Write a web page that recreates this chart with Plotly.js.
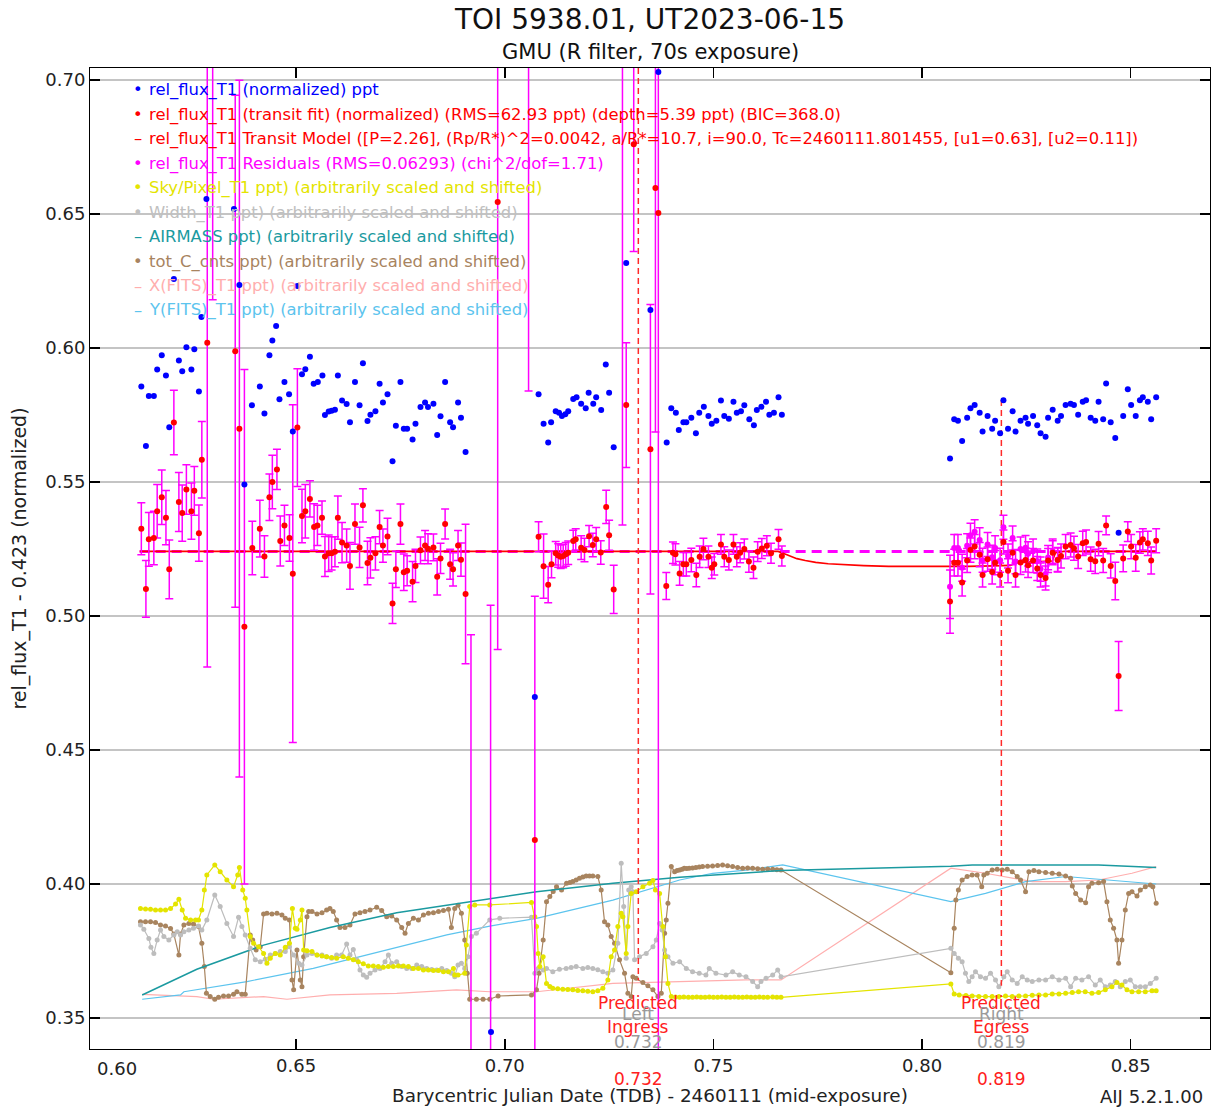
<!DOCTYPE html>
<html><head><meta charset="utf-8">
<script src="https://cdn.plot.ly/plotly-3.0.1.min.js"></script>
<style>html,body{margin:0;padding:0;background:#fff}#chart{width:1211px;height:1108px}</style>
</head><body><div id="chart"></div>
<script>
// ---- rel_flux_T1 (normalized), blue ----
const tBlue = [0.6129,0.6140,0.6147,0.6159,0.6167,0.6178,0.6188,0.6196,0.6207,0.6219,0.6227,0.6237,0.6249,0.6256,0.6267,0.6273,0.6285,0.6351,0.6364,0.6376,
0.6394,0.6413,0.6424,0.6436,0.6443,0.6452,0.6460,0.6472,0.6483,0.6492,0.6503,0.6514,0.6522,0.6533,0.6542,0.6552,0.6563,0.6569,0.6578,0.6585,
0.6593,0.6600,0.6610,0.6621,0.6629,0.6641,0.6652,0.6660,0.6671,0.6678,0.6690,0.6700,0.6708,0.6719,0.6731,0.6739,0.6750,0.6758,0.6766,0.6779,
0.6786,0.6798,0.6809,0.6816,0.6829,0.6838,0.6846,0.6857,0.6869,0.6876,0.6888,0.6895,0.6906,0.6967,0.7072,
0.7081,0.7093,0.7104,0.7111,0.7122,0.7130,0.7137,0.7145,0.7152,0.7164,0.7172,0.7183,0.7194,0.7201,0.7212,0.7219,0.7231,0.7242,0.7250,0.7261,0.7291,0.7349,0.7368,
0.7388,0.7399,0.7410,0.7417,0.7428,0.7435,0.7447,0.7458,0.7466,0.7477,0.7488,0.7496,0.7507,0.7518,0.7526,0.7537,0.7548,0.7556,0.7566,0.7574,0.7586,0.7597,0.7604,0.7615,0.7626,0.7634,0.7645,0.7656,0.7664,
0.8067,0.8077,0.8086,0.8096,0.8108,0.8116,0.8126,0.8138,0.8145,0.8157,0.8168,0.8175,0.8187,0.8195,0.8206,0.8217,0.8224,0.8236,0.8248,0.8254,
0.8266,0.8276,0.8284,0.8296,0.8302,0.8313,0.8325,0.8333,0.8344,0.8356,0.8364,0.8374,0.8385,0.8393,0.8404,0.8415,0.8423,0.8434,0.8441,0.8452,
0.8463,0.8471,0.8482,0.8493,0.8501,0.8512,0.8522,0.8529,0.8541,0.8549,0.8561];
const vBlue = [.5856,.5634,.5821,.5821,.5920,.5973,.5897,.5704,.6257,.5953,.5913,.6003,.5920,.5995,.5838,.6116,.6556,.6519,.6235,.5491,
.5786,.5856,.5756,.5973,.6028,.6082,.5809,.5873,.5827,.5688,.6231,.5902,.5921,.5967,.5867,.5873,.5897,.5750,.5763,.5766,
.5770,.5897,.5804,.5791,.5723,.5873,.5786,.5943,.5728,.5751,.5764,.5867,.5797,.5827,.5577,.5710,.5873,.5699,.5699,.5659,
.5717,.5780,.5797,.5780,.5792,.5675,.5745,.5873,.5723,.5704,.5797,.5740,.5612,.3448,.4698,
.5827,.5717,.5647,.5723,.5764,.5758,.5746,.5753,.5764,.5810,.5816,.5792,.5775,.5833,.5792,.5816,.5769,.5938,.5833,.5630,.6317,.6142,.7030,
.5647,.5775,.5758,.5694,.5723,.5723,.5740,.5682,.5758,.5781,.5746,.5717,.5729,.5804,.5746,.5736,.5799,.5758,.5764,.5786,.5734,.5712,.5769,.5781,.5799,.5751,.5758,.5816,.5751,
.5588,.5734,.5729,.5653,.5740,.5775,.5787,.5758,.5688,.5746,.5699,.5729,.5682,.5805,.5699,.5764,.5688,.5729,.5740,.5717,
.5746,.5712,.5682,.5669,.5740,.5770,.5729,.5746,.5787,.5792,.5787,.5751,.5799,.5805,.5740,.5729,.5799,.5734,.5868,.5723,
.5664,.5311,.5746,.5846,.5787,.5746,.5805,.5816,.5799,.5734,.5816];

// ---- rel_flux_T1 transit fit (red) with errors ----
const tFit = [0.6129,0.6140,0.6147,0.6159,0.6167,0.6178,0.6188,0.6196,0.6207,0.6219,0.6227,0.6237,0.6249,0.6256,0.6267,0.6274,0.6287,0.6300,0.6354,0.6364,
0.6376,0.6395,0.6413,0.6424,0.6436,0.6443,0.6454,0.6462,0.6472,0.6484,0.6492,0.6503,0.6514,0.6522,0.6533,0.6543,0.6551,0.6562,0.6569,0.6578,
0.6585,0.6593,0.6600,0.6610,0.6621,0.6629,0.6641,0.6652,0.6660,0.6671,0.6678,0.6690,0.6700,0.6708,0.6719,0.6731,0.6739,0.6750,0.6758,0.6766,
0.6779,0.6786,0.6798,0.6809,0.6816,0.6829,0.6838,0.6846,0.6857,0.6869,0.6876,0.6888,0.6895,0.6906,0.6919,0.6966,0.6983,0.7057,0.7072,
0.7081,0.7093,0.7104,0.7112,0.7122,0.7128,0.7134,0.7140,0.7146,0.7152,0.7164,0.7170,0.7183,0.7191,0.7202,0.7211,0.7219,0.7230,0.7243,0.7250,
0.7261,0.7282,0.7291,0.7309,0.7349,0.7361,0.7368,
0.7387,0.7403,0.7409,0.7419,0.7428,0.7435,0.7447,0.7459,0.7467,0.7476,0.7488,0.7496,0.7502,0.7518,0.7526,0.7537,0.7548,0.7556,0.7564,0.7574,
0.7585,0.7596,0.7606,0.7616,0.7628,0.7638,0.7656,0.7664,
0.8067,0.8077,0.8086,0.8096,0.8108,0.8116,0.8126,0.8138,0.8145,0.8157,0.8168,0.8175,0.8187,0.8195,0.8206,0.8217,0.8224,0.8236,0.8248,0.8254,
0.8266,0.8276,0.8284,0.8296,0.8302,0.8313,0.8325,0.8333,0.8344,0.8356,0.8364,0.8374,0.8385,0.8393,0.8404,0.8415,0.8423,0.8434,0.8441,0.8452,
0.8463,0.8471,0.8482,0.8493,0.8501,0.8512,0.8522,0.8529,0.8541,0.8549,0.8561];
const vFit = [.5326,.5101,.5286,.5291,.5391,.5443,.5367,.5174,.5722,.5425,.5384,.5472,.5391,.5467,.5309,.5583,.6020,.7600,.5988,.5699,
.4960,.5254,.5326,.5222,.5443,.5500,.5547,.5280,.5338,.5291,.5158,.5703,.5373,.5391,.5437,.5332,.5338,.5367,.5222,.5234,
.5234,.5240,.5367,.5274,.5263,.5187,.5343,.5256,.5413,.5198,.5217,.5234,.5332,.5263,.5297,.5047,.5174,.5343,.5163,.5169,
.5128,.5187,.5245,.5263,.5251,.5256,.5146,.5215,.5343,.5193,.5174,.5263,.5210,.5082,.3000,.2800,.6545,.7800,.4164,
.5296,.5186,.5117,.5193,.5234,.5226,.5221,.5224,.5230,.5236,.5280,.5286,.5255,.5246,.5298,.5265,.5286,.5237,.5407,.5301,
.5099,.7400,.5787,.6760,.5622,.6597,.6504,
.5112,.5236,.5230,.5159,.5193,.5193,.5209,.5153,.5221,.5250,.5221,.5180,.5193,.5267,.5221,.5209,.5267,.5221,.5236,.5250,
.5203,.5180,.5240,.5252,.5262,.5234,.5286,.5224,
.5054,.5199,.5199,.5125,.5207,.5246,.5259,.5229,.5153,.5212,.5164,.5199,.5153,.5276,.5169,.5236,.5153,.5200,.5209,.5189,
.5207,.5177,.5153,.5142,.5207,.5236,.5209,.5224,.5259,.5265,.5253,.5222,.5271,.5276,.5212,.5204,.5270,.5207,.5338,.5187,
.5131,.4776,.5215,.5315,.5259,.5217,.5274,.5286,.5271,.5207,.5281];
const eFit = [.0097,.0106,.0100,.0100,.0100,.0102,.0101,.0110,.0120,.0110,.0105,.0092,.0105,.0091,.0105,.0143,.1210,.1420,.0955,.1300,
.0960,.0100,.0106,.0077,.0087,.0100,.0075,.0093,.0075,.0087,.0630,.0220,.0100,.0100,.0068,.0087,.0075,.0062,.0075,.0068,
.0062,.0056,.0081,.0075,.0062,.0087,.0075,.0075,.0062,.0081,.0075,.0062,.0062,.0062,.0068,.0075,.0068,.0075,.0068,.0056,
.0075,.0062,.0050,.0056,.0056,.0050,.0068,.0056,.0056,.0056,.0062,.0056,.0062,.0260,.1930,.2240,.1670,.1960,.0910,
.0056,.0120,.0068,.0050,.0044,.0044,.0044,.0044,.0044,.0044,.0040,.0040,.0044,.0044,.0040,.0044,.0044,.0044,.0062,.0056,
.0090,.2060,.0233,.0400,.0540,.0910,.3300,
.0050,.0040,.0040,.0044,.0044,.0044,.0044,.0044,.0040,.0040,.0040,.0040,.0040,.0037,.0037,.0037,.0037,.0037,.0037,.0037,
.0040,.0040,.0037,.0037,.0037,.0037,.0037,.0037,
.0118,.0050,.0050,.0050,.0045,.0045,.0045,.0045,.0045,.0045,.0045,.0045,.0045,.0045,.0045,.0045,.0045,.0045,.0045,.0045,
.0045,.0045,.0045,.0045,.0045,.0045,.0045,.0045,.0045,.0045,.0045,.0045,.0045,.0045,.0045,.0045,.0045,.0045,.0035,.0045,
.0070,.0129,.0050,.0037,.0045,.0050,.0040,.0040,.0045,.0050,.0045];

// ---- residuals (magenta), visible where the model dips ----
const tRes = [0.8067,0.8077,0.8086,0.8096,0.8108,0.8116,0.8126,0.8138,0.8145,0.8157,0.8168,0.8175,0.8187,0.8195,0.8206,0.8217,0.8224,0.8236,0.8248,0.8254,0.8266,0.8276,0.8284,0.8296,0.8302,0.8313,0.8325];
const vRes = [.5109,.5254,.5254,.5180,.5262,.5301,.5314,.5284,.5208,.5267,.5219,.5254,.5208,.5331,.5224,.5291,.5203,.5250,.5255,.5232,.5242,.5205,.5175,.5157,.5218,.5242,.5211];
const eRes = [.0118,.0050,.0050,.0050,.0045,.0045,.0045,.0045,.0045,.0045,.0045,.0045,.0045,.0045,.0045,.0045,.0045,.0045,.0045,.0045,.0045,.0045,.0045,.0045,.0045,.0045,.0045];

// ---- transit model and residual baseline ----
const tModel = [0.6125,0.7655,0.7670,0.7685,0.7700,0.7720,0.7745,0.7775,0.7810,0.7860,0.7920,0.8015,0.8110,0.8170,0.8212,0.8225,0.8290,0.8312,0.8320,0.8340,0.8561];
const vModel = [0.5241,0.5241,0.5232,0.5222,0.5214,0.5207,0.5200,0.5195,0.5191,0.5188,0.5185,0.5184,0.5185,0.5187,0.5189,0.5199,0.5202,0.5205,0.5236,0.5241,0.5241];
const tBase = [0.6125,0.8561];
const vBase = [0.5241,0.5241];

// ---- predicted ingress / egress ----
const predT = [0.732,0.819];
const predTop = [0.7045,0.5806];
const predBot = [0.3640,0.3620];
const predName = ['Ingress','Egress'];
const predSide = ['Left','Right'];

// ---- tot_C_cnts (brown) ----
const tCnt = [0.6127,0.6139,0.6151,0.6163,0.6175,0.6187,0.6199,0.6207,0.6219,0.6223,0.6231,0.6243,0.6254,0.6266,0.6274,0.6280,0.6285,0.6294,0.6305,0.6314,
0.6326,0.6338,0.6350,0.6358,0.6370,0.6378,0.6390,0.6396,0.6404,0.6414,0.6422,0.6430,0.6442,0.6454,0.6466,0.6474,0.6484,0.6490,0.6494,0.6502,
0.6510,0.6514,0.6518,0.6526,0.6530,0.6538,0.6550,0.6562,0.6573,0.6581,0.6589,0.6597,0.6605,0.6617,0.6629,0.6641,0.6653,0.6665,0.6677,0.6693,
0.6705,0.6717,0.6729,0.6741,0.6753,0.6761,0.6769,0.6781,0.6793,0.6805,0.6817,0.6829,0.6841,0.6853,0.6865,0.6872,0.6880,0.6888,0.6896,0.6904,
0.6910,0.6916,0.6932,0.6948,0.6964,0.6984,0.7064,0.7076,0.7082,0.7092,0.7100,0.7108,0.7116,0.7124,0.7136,0.7148,0.7156,0.7163,0.7171,0.7179,
0.7187,0.7195,0.7203,0.7211,0.7223,0.7231,0.7239,0.7247,0.7255,0.7263,0.7275,0.7287,0.7295,0.7303,0.7307,0.7315,0.7331,0.7343,0.7355,0.7367,
0.7375,0.7383,0.7387,0.7391,0.7399,0.7407,0.7413,0.7419,0.7425,0.7430,0.7436,0.7442,0.7450,0.7458,0.7466,0.7474,0.7486,0.7498,0.7510,0.7522,
0.7534,0.7546,0.7558,0.7570,0.7582,0.7594,0.7606,0.7618,0.7630,0.7642,0.7652,0.7662,
0.8069,0.8077,0.8081,0.8087,0.8096,0.8108,0.8120,0.8132,0.8143,0.8148,0.8156,0.8168,0.8180,0.8192,0.8204,0.8216,0.8228,0.8236,0.8248,0.8256,
0.8268,0.8280,0.8296,0.8312,0.8328,0.8344,0.8356,0.8360,0.8368,0.8380,0.8392,0.8399,0.8407,0.8423,0.8435,0.8443,0.8451,0.8459,0.8467,0.8471,
0.8479,0.8487,0.8495,0.8503,0.8515,0.8523,0.8535,0.8547,0.8553,0.8561];
const vCnt = [.3859,.3859,.3859,.3856,.3847,.3843,.3834,.3813,.3735,.3813,.3847,.3853,.3851,.3841,.3779,.3692,.3592,.3580,.3570,.3577,
.3582,.3582,.3589,.3598,.3589,.3589,.3810,.3791,.3754,.3766,.3888,.3891,.3888,.3891,.3884,.3872,.3866,.3642,.3605,.3754,
.3642,.3617,.3729,.3878,.3897,.3897,.3888,.3893,.3903,.3909,.3897,.3866,.3838,.3838,.3847,.3888,.3893,.3897,.3903,.3913,
.3901,.3878,.3881,.3866,.3838,.3816,.3853,.3872,.3866,.3884,.3891,.3893,.3897,.3901,.3906,.3838,.3909,.3921,.3891,.3791,
.3667,.3570,.3570,.3570,.3570,.3582,.3586,.3605,.3667,.3791,.3934,.3953,.3972,.3990,.3978,.4003,.4006,.4009,.4015,.4021,
.4026,.4030,.4030,.4030,.4028,.3978,.3859,.3847,.3804,.3779,.3717,.3667,.3592,.3580,.3654,.3648,.3632,.3620,.3605,.3580,
.3592,.3816,.3866,.3928,.4065,.4046,.4050,.4052,.4055,.4059,.4058,.4059,.4060,.4062,.4063,.4065,.4066,.4067,.4069,.4071,
.4068,.4065,.4062,.4059,.4060,.4059,.4057,.4055,.4056,.4055,.4053,.4052,
.3669,.3835,.3940,.3978,.4015,.4028,.4034,.4034,.3990,.4034,.4040,.4052,.4055,.4052,.4055,.4046,.4028,.4015,.3971,.4046,
.4050,.4046,.4043,.4040,.4037,.4030,.4021,.3993,.3965,.3940,.3930,.3990,.4003,.4005,.4009,.3934,.3866,.3835,.3791,.3704,
.3791,.3903,.3965,.3971,.3955,.3978,.3990,.3996,.3990,.3928];

// ---- Sky/Pixel_T1 (yellow) ----
const tSky = [0.6127,0.6139,0.6151,0.6163,0.6175,0.6187,0.6199,0.6211,0.6219,0.6227,0.6235,0.6247,0.6259,0.6266,0.6274,0.6280,0.6286,0.6305,0.6318,0.6334,
0.6350,0.6360,0.6364,0.6372,0.6378,0.6382,0.6390,0.6398,0.6410,0.6422,0.6430,0.6438,0.6450,0.6462,0.6474,0.6484,0.6491,0.6498,0.6502,0.6510,
0.6514,0.6518,0.6526,0.6538,0.6550,0.6562,0.6573,0.6585,0.6597,0.6613,0.6625,0.6637,0.6649,0.6661,0.6673,0.6685,0.6697,0.6709,0.6721,0.6733,
0.6745,0.6757,0.6769,0.6781,0.6793,0.6805,0.6817,0.6829,0.6841,0.6853,0.6865,0.6877,0.6880,0.6888,0.6904,0.6908,0.6916,0.6928,
0.6964,0.7064,0.7072,0.7076,0.7080,0.7084,0.7092,0.7100,0.7108,0.7115,0.7127,0.7139,0.7151,0.7163,0.7175,0.7187,0.7199,0.7211,0.7223,0.7235,
0.7247,0.7255,0.7263,0.7271,0.7279,0.7283,0.7291,0.7295,0.7303,0.7315,0.7331,0.7347,0.7355,0.7361,0.7371,0.7379,0.7385,0.7391,0.7399,0.7409,
0.7419,0.7429,0.7440,0.7450,0.7460,0.7470,0.7480,0.7490,0.7500,0.7510,0.7520,0.7530,0.7540,0.7550,0.7560,0.7570,0.7580,0.7590,0.7600,0.7610,
0.7620,0.7630,0.7642,0.7652,0.7662,
0.8069,0.8077,0.8089,0.8105,0.8120,0.8136,0.8152,0.8168,0.8184,0.8200,0.8216,0.8232,0.8248,0.8264,0.8280,0.8296,0.8312,0.8328,0.8344,0.8360,
0.8375,0.8391,0.8407,0.8423,0.8439,0.8455,0.8467,0.8479,0.8491,0.8503,0.8519,0.8535,0.8551,0.8561];
const vSky = [.3909,.3907,.3906,.3903,.3903,.3903,.3909,.3925,.3943,.3903,.3872,.3866,.3866,.3866,.3903,.3978,.4034,.4071,.4046,.4015,
.3990,.4034,.4062,.3978,.3947,.3903,.3804,.3779,.3766,.3741,.3704,.3723,.3741,.3735,.3764,.3779,.3909,.3835,.3831,.3866,
.3903,.3754,.3751,.3748,.3735,.3731,.3729,.3726,.3723,.3729,.3723,.3717,.3710,.3702,.3694,.3694,.3692,.3689,.3692,.3692,
.3694,.3694,.3692,.3685,.3685,.3679,.3679,.3677,.3677,.3673,.3673,.3685,.3660,.3660,.3667,.3772,.3916,.3922,
.3922,.3931,.3878,.3841,.3741,.3692,.3729,.3629,.3618,.3611,.3609,.3607,.3606,.3605,.3603,.3602,.3600,.3598,.3602,.3611,
.3642,.3729,.3754,.3841,.3891,.3878,.3741,.3841,.3965,.3971,.3990,.4003,.4013,.3978,.3965,.3841,.3729,.3629,.3580,.3578,
.3577,.3578,.3577,.3577,.3578,.3577,.3577,.3578,.3577,.3577,.3578,.3577,.3577,.3578,.3577,.3577,.3578,.3577,.3577,.3578,
.3577,.3577,.3578,.3577,.3577,
.3627,.3590,.3586,.3584,.3582,.3580,.3580,.3580,.3580,.3582,.3580,.3582,.3582,.3585,.3586,.3586,.3590,.3590,.3592,.3595,
.3598,.3598,.3592,.3595,.3605,.3617,.3632,.3623,.3605,.3598,.3598,.3598,.3602,.3602];

// ---- Width_T1 (gray) ----
const tWid = [0.6127,0.6135,0.6147,0.6152,0.6159,0.6167,0.6175,0.6183,0.6195,0.6207,0.6215,0.6223,0.6231,0.6243,0.6254,0.6266,0.6274,0.6286,0.6305,0.6318,
0.6334,0.6350,0.6362,0.6370,0.6378,0.6390,0.6402,0.6414,0.6426,0.6438,0.6450,0.6462,0.6474,0.6484,0.6494,0.6506,0.6514,0.6526,0.6538,0.6550,
0.6562,0.6573,0.6585,0.6597,0.6609,0.6621,0.6629,0.6637,0.6645,0.6653,0.6661,0.6669,0.6677,0.6689,0.6701,0.6713,0.6721,0.6729,0.6741,0.6753,
0.6765,0.6777,0.6789,0.6801,0.6813,0.6825,0.6837,0.6849,0.6861,0.6872,0.6880,0.6888,0.6896,0.6904,0.6912,0.6920,0.6932,
0.6964,0.6988,0.7064,0.7072,0.7080,0.7092,0.7100,0.7115,0.7131,0.7147,0.7159,0.7171,0.7187,0.7199,0.7211,0.7223,0.7235,0.7247,0.7259,0.7271,
0.7279,0.7285,0.7291,0.7297,0.7303,0.7307,0.7311,0.7323,0.7339,0.7355,0.7363,0.7371,0.7377,0.7383,0.7391,0.7403,0.7419,0.7435,0.7450,0.7466,
0.7482,0.7490,0.7506,0.7530,0.7546,0.7562,0.7578,0.7594,0.7606,0.7614,0.7626,0.7642,0.7654,0.7662,
0.8069,0.8077,0.8087,0.8096,0.8104,0.8112,0.8120,0.8128,0.8140,0.8152,0.8164,0.8176,0.8184,0.8196,0.8204,0.8216,0.8228,0.8240,0.8252,0.8264,
0.8280,0.8296,0.8312,0.8328,0.8344,0.8356,0.8368,0.8383,0.8399,0.8415,0.8427,0.8439,0.8451,0.8463,0.8475,0.8487,0.8499,0.8511,0.8523,0.8535,
0.8547,0.8561];
const vWid = [.3847,.3831,.3797,.3764,.3741,.3791,.3828,.3804,.3791,.3810,.3822,.3810,.3822,.3828,.3835,.3843,.3828,.3866,.3959,.3916,
.3853,.3804,.3876,.3841,.3810,.3760,.3717,.3710,.3719,.3735,.3741,.3748,.3748,.3766,.3735,.3704,.3698,.3735,.3741,.3735,
.3735,.3729,.3723,.3735,.3735,.3776,.3735,.3756,.3717,.3679,.3660,.3652,.3667,.3679,.3685,.3710,.3735,.3704,.3710,.3692,
.3685,.3685,.3698,.3692,.3685,.3681,.3679,.3685,.3677,.3667,.3654,.3698,.3704,.3685,.3729,.3804,.3816,
.3866,.3872,.3876,.3667,.3685,.3679,.3685,.3673,.3682,.3685,.3688,.3692,.3685,.3688,.3685,.3680,.3673,.3667,.3679,.3779,
.4077,.3916,.3723,.3978,.3990,.3971,.3717,.3729,.3741,.3766,.3791,.3853,.3828,.3754,.3729,.3704,.3710,.3685,.3673,.3667,
.3660,.3685,.3667,.3660,.3673,.3660,.3654,.3636,.3617,.3636,.3648,.3660,.3679,.3654,
.3760,.3741,.3723,.3710,.3667,.3636,.3654,.3673,.3654,.3648,.3667,.3642,.3617,.3654,.3673,.3642,.3629,.3654,.3642,.3636,
.3642,.3642,.3654,.3642,.3648,.3617,.3648,.3642,.3654,.3623,.3642,.3617,.3623,.3636,.3617,.3636,.3642,.3617,.3617,.3617,
.3629,.3648];

// ---- AIRMASS (teal), X(FITS) (pink), Y(FITS) (light blue) ----
const tAir = [0.6131,0.6262,0.6422,0.6581,0.6741,0.6900,0.6964,0.7076,0.7259,0.7419,0.7662,0.8069,0.8120,0.8423,0.8561];
const vAir = [.3586,.3682,.3772,.3838,.3893,.3930,.3946,.3971,.4003,.4025,.4050,.4066,.4071,.4071,.4062];
const tXf = [0.6131,0.6262,0.6302,0.6422,0.6478,0.6581,0.6741,0.6884,0.6964,0.7076,0.7259,0.7419,0.7578,0.7662,0.8069,0.8152,0.8264,0.8344,0.8423,0.8503,0.8561];
const vXf = [.3588,.3580,.3570,.3580,.3570,.3586,.3592,.3605,.3598,.3598,.3629,.3636,.3642,.3642,.4059,.4040,.4009,.4009,.4015,.4040,.4065];
const tYf = [0.6131,0.6223,0.6231,0.6382,0.6541,0.6701,0.6861,0.6964,0.7076,0.7259,0.7339,0.7419,0.7498,0.7578,0.7666,0.8069,0.8152,0.8248,0.8344,0.8423,0.8561];
const vYf = [.3570,.3586,.3598,.3636,.3685,.3748,.3810,.3843,.3872,.3940,.3978,.4015,.4040,.4052,.4071,.3934,.3965,.4009,.4028,.4018,.4000];

// ---- axis ticks ----
const xTickVals = [0.65,0.70,0.75,0.80,0.85];
const xTickText = ['0.65','0.70','0.75','0.80','0.85'];
const yTickVals = [0.35,0.40,0.45,0.50,0.55,0.60,0.65,0.70];
const yTickText = ['0.35','0.40','0.45','0.50','0.55','0.60','0.65','0.70'];

// ---- legend ----
const legendText = [
 'rel_flux_T1 (normalized) ppt',
 'rel_flux_T1 (transit fit) (normalized) (RMS=62.93 ppt) (depth=5.39 ppt) (BIC=368.0)',
 'rel_flux_T1 Transit Model ([P=2.26], (Rp/R*)^2=0.0042, a/R*=10.7, i=90.0, Tc=2460111.801455, [u1=0.63], [u2=0.11])',
 'rel_flux_T1 Residuals (RMS=0.06293) (chi^2/dof=1.71)',
 'Sky/Pixel_T1 ppt) (arbitrarily scaled and shifted)',
 'Width_T1 ppt) (arbitrarily scaled and shifted)',
 'AIRMASS ppt) (arbitrarily scaled and shifted)',
 'tot_C_cnts ppt) (arbitrarily scaled and shifted)',
 'X(FITS)_T1 ppt) (arbitrarily scaled and shifted)',
 'Y(FITS)_T1 ppt) (arbitrarily scaled and shifted)'];
const legendSym = ['\u2022','\u2022','\u2013','\u2022','\u2022','\u2022','\u2013','\u2022','\u2013','\u2013'];
const C = {blue:'#0000ff', red:'#ff0000', mag:'#ff00ff', yel:'#e4e400', gray:'#bdbdbd', teal:'#1b9aa0', brown:'#a8845f', pink:'#ffaeae', lblue:'#5cc4ee'};
const legendCol = [C.blue,C.red,C.red,C.mag,C.yel,'#c0c0c0',C.teal,C.brown,C.pink,C.lblue];

const FONT = 'DejaVu Sans, Verdana, sans-serif';
const L = 90, R = 1210, T = 68, B = 1049;
const px = x => (x - L) / (R - L);
const py = y => (B - y) / (B - T);

const traces = [];
traces.push({x:tXf, y:vXf, mode:'lines', line:{color:C.pink, width:1.2}, hoverinfo:'skip'});
traces.push({x:tYf, y:vYf, mode:'lines', line:{color:C.lblue, width:1.2}, hoverinfo:'skip'});
traces.push({x:tCnt, y:vCnt, mode:'lines+markers', line:{color:C.brown, width:1.2}, marker:{color:C.brown, size:5}});
traces.push({x:tAir, y:vAir, mode:'lines', line:{color:C.teal, width:1.5}});
traces.push({x:tWid, y:vWid, mode:'lines+markers', line:{color:C.gray, width:1.2}, marker:{color:C.gray, size:5}});
traces.push({x:tSky, y:vSky, mode:'lines+markers', line:{color:C.yel, width:1.2}, marker:{color:C.yel, size:5}});
traces.push({x:tBase, y:vBase, mode:'lines', line:{color:C.mag, width:3, dash:'10px,6px'}});
traces.push({x:tModel, y:vModel, mode:'lines', line:{color:C.red, width:1.6}});
for (let i = 0; i < predT.length; i++) {
  traces.push({x:[predT[i], predT[i]], y:[predTop[i], predBot[i]], mode:'lines', line:{color:'#ff2a2a', width:1.5, dash:'6px,4px'}});
}
traces.push({x:tRes, y:vRes, mode:'markers', marker:{color:C.mag, size:6},
  error_y:{type:'data', array:eRes, color:C.mag, thickness:1.5, width:4}});
traces.push({x:tFit, y:vFit, mode:'markers', marker:{color:C.red, size:6},
  error_y:{type:'data', array:eFit, color:C.mag, thickness:1.5, width:4}});
traces.push({x:tBlue, y:vBlue, mode:'markers', marker:{color:C.blue, size:6}});

const ann = [];
const LEGSIZE = 16.4;
const rowY = [90, 114.5, 139, 163.5, 188, 212.5, 237, 261.5, 286, 310];
for (let i = 0; i < legendText.length; i++) {
  ann.push({xref:'paper', yref:'paper', x:px(138), y:py(rowY[i]), xanchor:'center', yanchor:'middle', showarrow:false,
    text:legendSym[i], font:{family:FONT, size:LEGSIZE, color:legendCol[i]}});
  ann.push({xref:'paper', yref:'paper', x:px(147), y:py(rowY[i]), xanchor:'left', yanchor:'middle', showarrow:false,
    text:legendText[i], font:{family:FONT, size:LEGSIZE, color:legendCol[i]}});
}
for (let i = 0; i < predT.length; i++) {
  const lab = predT[i].toFixed(3);
  ann.push({xref:'x', yref:'paper', x:predT[i], y:py(1003), yanchor:'middle', showarrow:false, text:'Predicted', font:{family:FONT, size:17, color:'#ff2020'}});
  ann.push({xref:'x', yref:'paper', x:predT[i], y:py(1014), yanchor:'middle', showarrow:false, text:predSide[i], font:{family:FONT, size:17, color:'#9a9a9a'}});
  ann.push({xref:'x', yref:'paper', x:predT[i], y:py(1027), yanchor:'middle', showarrow:false, text:predName[i], font:{family:FONT, size:17, color:'#ff2020'}});
  ann.push({xref:'x', yref:'paper', x:predT[i], y:py(1042), yanchor:'middle', showarrow:false, text:lab, font:{family:FONT, size:17, color:'#9a9a9a'}});
  ann.push({xref:'x', yref:'paper', x:predT[i], y:py(1079), yanchor:'middle', showarrow:false, text:lab, font:{family:FONT, size:17, color:'#ff2020'}});
}
ann.push({xref:'paper', yref:'paper', x:px(117), y:py(1068), xanchor:'center', yanchor:'middle', showarrow:false, text:'0.60', font:{family:FONT, size:18, color:'#222'}});
ann.push({xref:'paper', yref:'paper', x:px(650), y:py(52), xanchor:'center', yanchor:'middle', showarrow:false, text:'GMU (R filter, 70s exposure)', font:{family:FONT, size:21, color:'#111'}});
ann.push({xref:'paper', yref:'paper', x:px(1205), y:py(1096), xanchor:'right', yanchor:'middle', showarrow:false, text:'AIJ 5.2.1.00', font:{family:FONT, size:18, color:'#222'}});

const layout = {
  width:1211, height:1108, paper_bgcolor:'#fff', plot_bgcolor:'#fff', showlegend:false,
  margin:{l:L, r:1211-R, t:T, b:1108-B},
  title:{text:'TOI 5938.01, UT2023-06-15', font:{family:FONT, size:28, color:'#111'}, x:0.5, xref:'paper', y:1-19/1108, yref:'container', yanchor:'middle'},
  xaxis:{range:[0.6006,0.8690], showgrid:false, zeroline:false, showline:true, linecolor:'#000', linewidth:1, mirror:'ticks',
    ticks:'inside', ticklen:10, tickwidth:1.5, tickcolor:'#000', tickvals:xTickVals, ticktext:xTickText,
    tickfont:{family:FONT, size:18, color:'#222'}, automargin:false,
    title:{text:'Barycentric Julian Date (TDB) - 2460111 (mid-exposure)', font:{family:FONT, size:18.4, color:'#222'}, standoff:14}},
  yaxis:{range:[0.338433,0.704478], showgrid:true, gridcolor:'#c4c4c4', gridwidth:1.5, zeroline:false, showline:true, linecolor:'#000', linewidth:1, mirror:'ticks',
    ticks:'inside', ticklen:10, tickwidth:1.5, tickcolor:'#000', tickvals:yTickVals, ticktext:yTickText,
    tickfont:{family:FONT, size:18, color:'#222'}, automargin:false,
    title:{text:'rel_flux_T1 - 0.423 (normalized)', font:{family:FONT, size:19, color:'#222'}, standoff:13}},
  annotations:ann
};
Plotly.newPlot('chart', traces, layout, {displayModeBar:false, staticPlot:true});
</script></body></html>
